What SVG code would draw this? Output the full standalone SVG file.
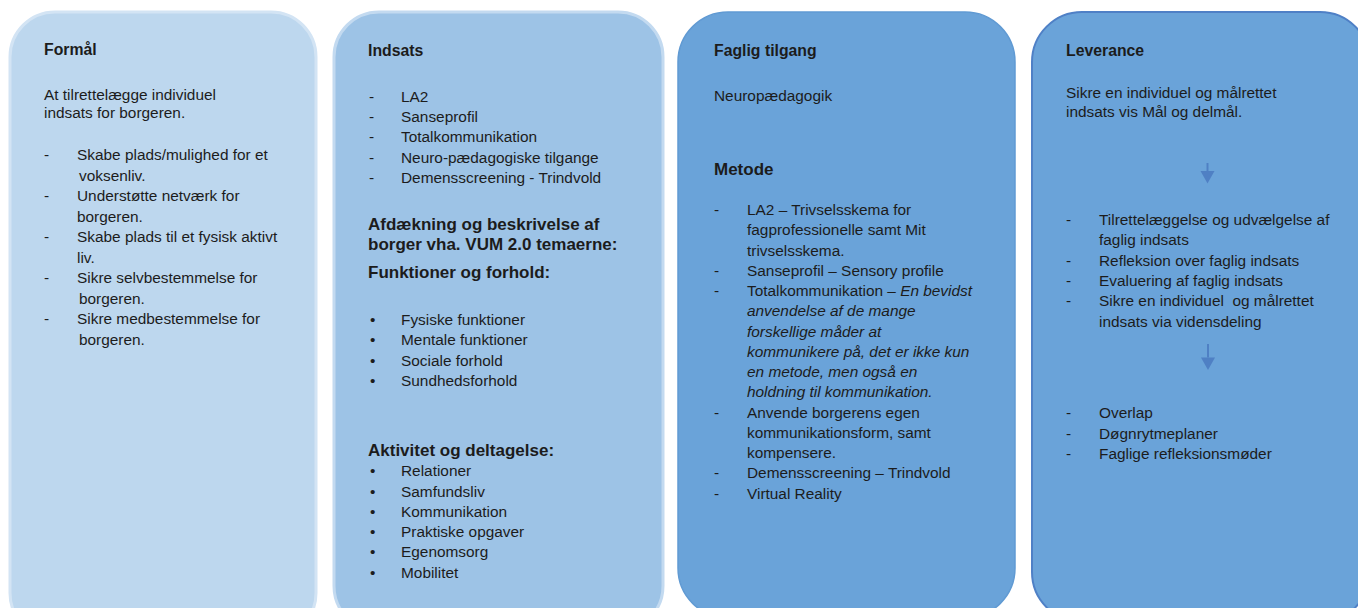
<svg xmlns="http://www.w3.org/2000/svg" width="1358" height="608" viewBox="0 0 1358 608">
<style>
text{font-family:"Liberation Sans",Arial,sans-serif;font-size:15.4px;fill:#1c1c1c}
.h{font-weight:bold;font-size:15.8px}
.H{font-weight:bold;font-size:17px}
.i{font-style:italic}
.arr{stroke:#4f80c4;stroke-width:2;fill:none}
</style>
<defs>
<marker id="ah" markerUnits="userSpaceOnUse" markerWidth="16" markerHeight="16" viewBox="0 -8 13 16" refX="0" refY="0" orient="auto">
<path d="M0,-7 L12.5,0 L0,7 Z" fill="#4f80c4"/>
</marker>
</defs>
<rect width="1358" height="608" fill="#ffffff"/>

<g id="formaal">
<rect x="10" y="12" width="306" height="626" rx="45" ry="45" fill="#bdd7ee" stroke="#d3e4f4" stroke-width="3"/>
<text class="h" x="44" y="55">Formål</text>
<text x="44" y="100">At tilrettelægge individuel</text>
<text x="44" y="118">indsats for borgeren.</text>
<text y="160"><tspan x="44">-</tspan><tspan x="77">Skabe plads/mulighed for et</tspan></text>
<text x="79" y="180.5">voksenliv.</text>
<text y="201"><tspan x="44">-</tspan><tspan x="77">Understøtte netværk for</tspan></text>
<text x="77" y="221.5">borgeren.</text>
<text y="242"><tspan x="44">-</tspan><tspan x="77">Skabe plads til et fysisk aktivt</tspan></text>
<text x="77" y="262.5">liv.</text>
<text y="283"><tspan x="44">-</tspan><tspan x="77">Sikre selvbestemmelse for</tspan></text>
<text x="79" y="303.5">borgeren.</text>
<text y="324"><tspan x="44">-</tspan><tspan x="77">Sikre medbestemmelse for</tspan></text>
<text x="79" y="344.5">borgeren.</text>
</g>

<g id="indsats">
<rect x="334" y="12" width="329" height="619" rx="45" ry="45" fill="#9dc3e6" stroke="#c3daf0" stroke-width="3"/>
<text class="h" x="368" y="56">Indsats</text>
<text y="101.5"><tspan x="369">-</tspan><tspan x="401">LA2</tspan></text>
<text y="121.5"><tspan x="369">-</tspan><tspan x="401">Sanseprofil</tspan></text>
<text y="142"><tspan x="369">-</tspan><tspan x="401">Totalkommunikation</tspan></text>
<text y="162.5"><tspan x="369">-</tspan><tspan x="401">Neuro-pædagogiske tilgange</tspan></text>
<text y="183"><tspan x="369">-</tspan><tspan x="401">Demensscreening - Trindvold</tspan></text>
<text class="H" x="368" y="229.5">Afdækning og beskrivelse af</text>
<text class="H" x="368" y="250">borger vha. VUM 2.0 temaerne:</text>
<text class="H" x="368" y="277.5">Funktioner og forhold:</text>
<text y="325"><tspan x="370">•</tspan><tspan x="401">Fysiske funktioner</tspan></text>
<text y="345"><tspan x="370">•</tspan><tspan x="401">Mentale funktioner</tspan></text>
<text y="365.5"><tspan x="370">•</tspan><tspan x="401">Sociale forhold</tspan></text>
<text y="386"><tspan x="370">•</tspan><tspan x="401">Sundhedsforhold</tspan></text>
<text class="H" x="368" y="455.5">Aktivitet og deltagelse:</text>
<text y="476"><tspan x="370">•</tspan><tspan x="401">Relationer</tspan></text>
<text y="496.5"><tspan x="370">•</tspan><tspan x="401">Samfundsliv</tspan></text>
<text y="516.5"><tspan x="370">•</tspan><tspan x="401">Kommunikation</tspan></text>
<text y="537"><tspan x="370">•</tspan><tspan x="401">Praktiske opgaver</tspan></text>
<text y="557"><tspan x="370">•</tspan><tspan x="401">Egenomsorg</tspan></text>
<text y="577.5"><tspan x="370">•</tspan><tspan x="401">Mobilitet</tspan></text>
</g>

<g id="faglig-tilgang">
<rect x="678" y="12" width="337" height="606" rx="50" ry="50" fill="#6aa3d9" stroke="#609ad3" stroke-width="1.5"/>
<text class="h" x="714" y="55.5">Faglig tilgang</text>
<text x="714" y="100.5">Neuropædagogik</text>
<text class="H" x="714" y="174.5">Metode</text>
<text y="215"><tspan x="714">-</tspan><tspan x="747">LA2 – Trivselsskema for</tspan></text>
<text x="747" y="235.25">fagprofessionelle samt Mit</text>
<text x="747" y="255.5">trivselsskema.</text>
<text y="275.75"><tspan x="714">-</tspan><tspan x="747">Sanseprofil – Sensory profile</tspan></text>
<text y="296"><tspan x="714">-</tspan><tspan x="747">Totalkommunikation – </tspan><tspan class="i">En bevidst</tspan></text>
<text class="i" x="747" y="316.25">anvendelse af de mange</text>
<text class="i" x="747" y="336.5">forskellige måder at</text>
<text class="i" x="747" y="356.75">kommunikere på, det er ikke kun</text>
<text class="i" x="747" y="377">en metode, men også en</text>
<text class="i" x="747" y="397.25">holdning til kommunikation.</text>
<text y="417.5"><tspan x="714">-</tspan><tspan x="747">Anvende borgerens egen</tspan></text>
<text x="747" y="437.75">kommunikationsform, samt</text>
<text x="747" y="458">kompensere.</text>
<text y="478.25"><tspan x="714">-</tspan><tspan x="747">Demensscreening – Trindvold</tspan></text>
<text y="498.5"><tspan x="714">-</tspan><tspan x="747">Virtual Reality</tspan></text>
</g>

<g id="leverance">
<rect x="1032" y="12" width="338" height="610" rx="50" ry="50" fill="#6aa3d9" stroke="#4f80c6" stroke-width="2"/>
<text class="h" x="1066" y="56">Leverance</text>
<text x="1066" y="97.5">Sikre en individuel og målrettet</text>
<text x="1066" y="117">indsats vis Mål og delmål.</text>
<text y="224.5"><tspan x="1066">-</tspan><tspan x="1099">Tilrettelæggelse og udvælgelse af</tspan></text>
<text x="1099" y="245">faglig indsats</text>
<text y="265.5"><tspan x="1066">-</tspan><tspan x="1099">Refleksion over faglig indsats</tspan></text>
<text y="285.5"><tspan x="1066">-</tspan><tspan x="1099">Evaluering af faglig indsats</tspan></text>
<text y="306" style="white-space:pre"><tspan x="1066">-</tspan><tspan x="1099">Sikre en individuel  og målrettet</tspan></text>
<text x="1099" y="326.5">indsats via vidensdeling</text>
<text y="418"><tspan x="1066">-</tspan><tspan x="1099">Overlap</tspan></text>
<text y="438.5"><tspan x="1066">-</tspan><tspan x="1099">Døgnrytmeplaner</tspan></text>
<text y="459"><tspan x="1066">-</tspan><tspan x="1099">Faglige refleksionsmøder</tspan></text>
</g>

<g id="connectors">
<line class="arr" x1="1207.5" y1="163" x2="1207.5" y2="171" marker-end="url(#ah)"/>
<line class="arr" x1="1208" y1="344" x2="1208" y2="357.5" marker-end="url(#ah)"/>
</g>
</svg>
